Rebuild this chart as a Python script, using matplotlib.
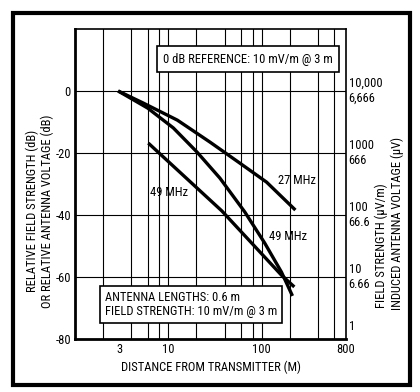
import matplotlib
matplotlib.use("Agg")
import matplotlib.pyplot as plt
import matplotlib.font_manager as fm
import matplotlib.transforms as mtransforms
from matplotlib.patches import Rectangle

# look for a narrow face, the original uses a condensed sans
names = {f.name for f in fm.fontManager.ttflist}
stretches = {(f.name, f.stretch) for f in fm.fontManager.ttflist}
fs = 9
if "Liberation Sans Narrow" in names:
    plt.rcParams['font.family'] = ['Liberation Sans Narrow', 'DejaVu Sans']
elif "Roboto Condensed" in names:
    plt.rcParams['font.family'] = ['Roboto Condensed', 'DejaVu Sans']
elif ("DejaVu Sans", "condensed") in stretches or ("DejaVu Sans", "semi-condensed") in stretches:
    plt.rcParams['font.family'] = ['DejaVu Sans']
    plt.rcParams['font.stretch'] = 'condensed'
else:
    plt.rcParams['font.family'] = ['DejaVu Sans']
    fs = 7.2

# curve data: distance (m), relative level (dB)
dist_27 = [2.9, 5.4, 12.5, 28, 58, 113, 230]
db_27 = [0, -3.9, -9.4, -16.5, -23.2, -29.4, -38.4]

dist_49a = [2.9, 6.0, 11.3, 20.3, 35.7, 65.9, 107.6, 163, 214]
db_49a = [0, -5.5, -11.9, -19.7, -28.1, -39.0, -49.0, -58.4, -66.1]

dist_49b = [6.1, 20.3, 37.5, 163, 224]
db_49b = [-16.8, -31.3, -38.7, -59.4, -63.2]

x_ticks = [3, 10, 100, 800]
x_tick_labels = ["3", "10", "100", "800"]
x_grid = [2, 4, 6, 8, 10, 20, 40, 60, 80, 100, 200, 400, 600]
y_ticks = [-80, -60, -40, -20, 0]
y_tick_labels = ["-80", "-60", "-40", "-20", "0"]
right_labels = ["1", "10\n6.66", "100\n66.6", "1000\n666", "10,000\n6,666"]

fig = plt.figure(figsize=(4.2, 3.92), dpi=100)
ax = fig.add_axes([0.1786, 0.1352, 0.645, 0.7908])

ax.set_xscale("log")
ax.set_xlim(1, 800)
ax.set_ylim(-80, 20)

for g in x_grid:
    ax.axvline(g, color="black", lw=0.8, zorder=1)
for g in y_ticks[1:]:
    ax.axhline(g, color="black", lw=0.8, zorder=1)

lw = 2.4
for xs, ys in [(dist_27, db_27), (dist_49a, db_49a), (dist_49b, db_49b)]:
    ax.plot(xs, ys, color="black", lw=lw, solid_capstyle="butt",
            solid_joinstyle="round", zorder=3)

ax.text(148, -29, "27 MHz", fontsize=fs, va="center", zorder=4)
ax.text(6.3, -32.9, "49 MHz", fontsize=fs, va="center", zorder=4)
ax.text(119, -46.8, "49 MHz", fontsize=fs, va="center", zorder=4)

ax.set_xticks(x_ticks)
ax.set_xticklabels(x_tick_labels)
ax.xaxis.set_minor_locator(matplotlib.ticker.NullLocator())
ax.set_yticks(y_ticks)
ax.set_yticklabels(y_tick_labels)
ax.tick_params(length=0, labelsize=fs, pad=3)

for s in ax.spines.values():
    s.set_linewidth(1.2)
ax.spines["left"].set_linewidth(2)
ax.spines["bottom"].set_linewidth(2)

trans = mtransforms.blended_transform_factory(ax.transAxes, ax.transData)
for v, lab in zip(y_ticks, right_labels):
    if v == -80:
        ax.text(1.01, v + 2, lab, transform=trans, fontsize=fs, va="bottom", ha="left")
    else:
        ax.text(1.01, v, lab, transform=trans, fontsize=fs, va="center", ha="left",
                linespacing=1.25)

ax.text(0.638, 0.903, "0 dB REFERENCE: 10 mV/m @ 3 m", transform=ax.transAxes,
        fontsize=fs, ha="center", va="center", zorder=5,
        bbox=dict(boxstyle="square,pad=0.5", fc="white", ec="black", lw=1.2))
ax.text(0.111, 0.111, "ANTENNA LENGTHS: 0.6 m\nFIELD STRENGTH: 10 mV/m @ 3 m",
        transform=ax.transAxes, fontsize=fs, ha="left", va="center", zorder=5,
        linespacing=1.15,
        bbox=dict(boxstyle="square,pad=0.4", fc="white", ec="black", lw=1.2))

ax.set_xlabel("DISTANCE FROM TRANSMITTER (M)", fontsize=fs, labelpad=3)
fig.text(0.078, 0.462, "RELATIVE FIELD STRENGTH (dB)", rotation=90,
         fontsize=fs, ha="center", va="center")
fig.text(0.112, 0.462, "OR RELATIVE ANTENNA VOLTAGE (dB)", rotation=90,
         fontsize=fs, ha="center", va="center")
fig.text(0.909, 0.214, "FIELD STRENGTH (\u00b5V/m)", rotation=90,
         fontsize=fs, ha="center", va="bottom")
fig.text(0.947, 0.21, "INDUCED ANTENNA VOLTAGE (\u00b5V)", rotation=90,
         fontsize=fs, ha="center", va="bottom")

fig.patches.append(Rectangle((0.031, 0.018), 0.945, 0.949, transform=fig.transFigure,
                             fill=False, ec="black", lw=3))

fig.savefig("out.png", dpi=100)
